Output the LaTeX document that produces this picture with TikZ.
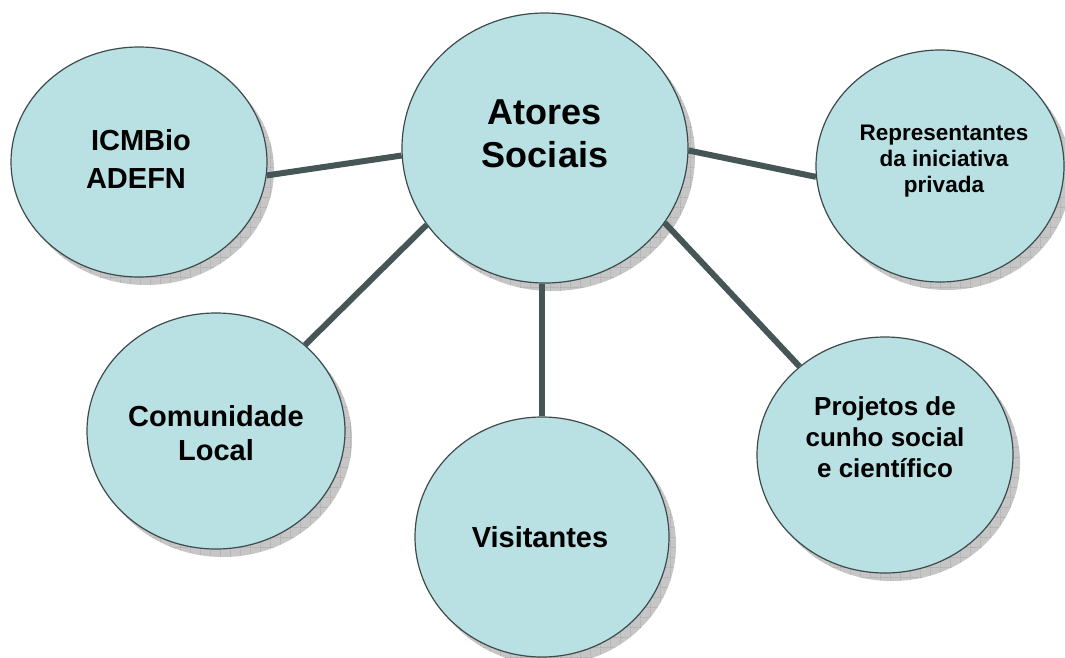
\documentclass[tikz,border=0pt]{standalone}
\usepackage{fontspec}
\setmainfont{Liberation Sans}
\usetikzlibrary{shapes.geometric,patterns.meta,calc}
\definecolor{bubble}{HTML}{B9E0E3}
\definecolor{rim}{HTML}{3E4B4B}
\definecolor{link}{HTML}{465555}
\pgfdeclarelayer{bg}
\pgfdeclarelayer{mid}
\pgfsetlayers{bg,mid,main}
\tikzdeclarepattern{
  name=shadowgrid,
  type=uncolored,
  bounding box={(0pt,0pt) and (10pt,10pt)},
  tile size={(10pt,10pt)},
  code={\draw[line width=0.7pt] (0pt,0pt) -- (10pt,0pt) (0pt,0pt) -- (0pt,10pt);}
}
\tikzset{
  bub/.style={ellipse, draw=rim, line width=1.2pt, fill=bubble, inner sep=0pt},
  shad/.style={fill=gray!45, postaction={pattern=shadowgrid, pattern color=gray!80}},
  conn/.style={draw=link, line width=6pt},
  lbl/.style={align=center, inner sep=0pt}
}
\begin{document}
\begin{tikzpicture}[x=1pt,y=-1pt]
\useasboundingbox (0,0) rectangle (1065,657);
% bubbles
\node[bub, minimum width=286pt, minimum height=270pt] (cen) at (545,148) {};
\node[bub, minimum width=256pt, minimum height=230pt] (icm) at (139,162) {};
\node[bub, minimum width=248pt, minimum height=232pt] (rep) at (940,166) {};
\node[bub, minimum width=258pt, minimum height=236pt] (com) at (216,431) {};
\node[bub, minimum width=254pt, minimum height=240pt] (vis) at (542,537) {};
\node[bub, minimum width=256pt, minimum height=236pt] (pro) at (885,455) {};
% texts
\node[lbl, font=\bfseries\fontsize{36}{43}\selectfont] (cenT) at (545,134) {Atores\\Sociais};
\node[lbl, font=\bfseries\fontsize{29}{38}\selectfont] (icmT) at (136,159) {\hspace*{10pt}ICMBio\\ADEFN};
\node[lbl, font=\bfseries\fontsize{22.5}{26}\selectfont] (repT) at (944,161) {Representantes\\da iniciativa\\privada};
\node[lbl, font=\bfseries\fontsize{29}{34}\selectfont] (comT) at (216,433) {Comunidade\\Local};
\node[lbl, font=\bfseries\fontsize{29}{34}\selectfont] (visT) at (540,537) {Visitantes};
\node[lbl, font=\bfseries\fontsize{26}{31}\selectfont] (proT) at (885,437) {Projetos de\\cunho social\\e científico};
\begin{pgfonlayer}{bg}
  \path[shad] ($(cen.center)+(7,8)$) ellipse [x radius=143pt, y radius=135pt];
  \path[shad] ($(icm.center)+(7,8)$) ellipse [x radius=128pt, y radius=115pt];
  \path[shad] ($(rep.center)+(7,8)$) ellipse [x radius=124pt, y radius=116pt];
  \path[shad] ($(com.center)+(7,8)$) ellipse [x radius=129pt, y radius=118pt];
  \path[shad] ($(vis.center)+(7,8)$) ellipse [x radius=127pt, y radius=120pt];
  \path[shad] ($(pro.center)+(7,8)$) ellipse [x radius=128pt, y radius=118pt];
\end{pgfonlayer}
\begin{pgfonlayer}{mid}
  \draw[conn] (cen.183) -- (icm.-6);
  \draw[conn] (cen.-1) -- (rep.185);
  \draw[conn] (cen.213) -- (com.44);
  \draw[conn] (vis.north |- cen.south) -- (vis.north);
  \draw[conn] (cen.-32) -- (pro.134);
\end{pgfonlayer}
\end{tikzpicture}
\end{document}
